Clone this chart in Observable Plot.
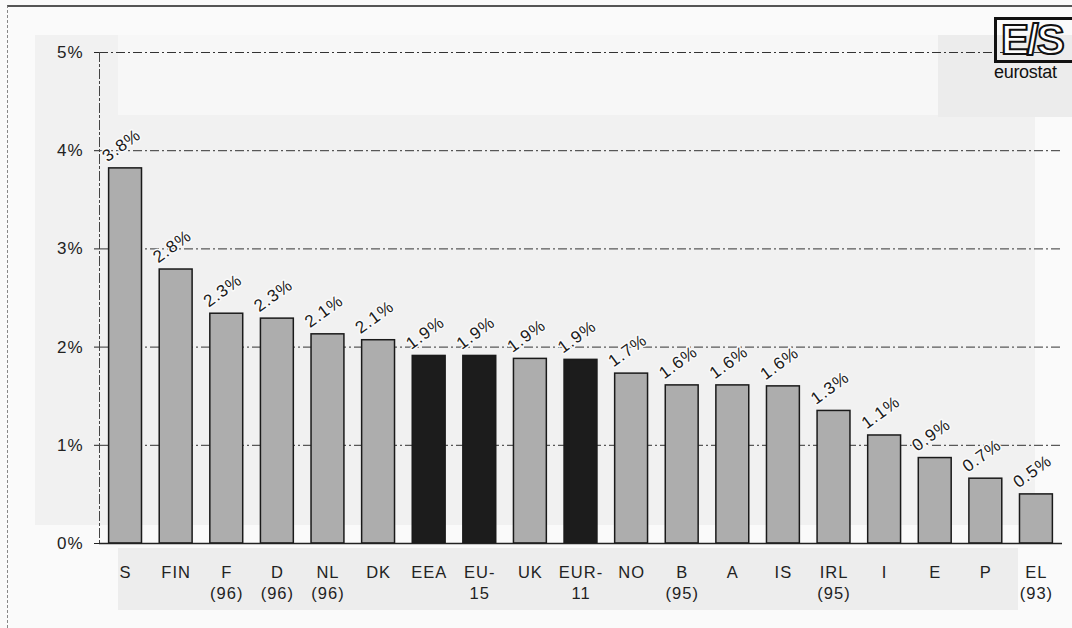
<!DOCTYPE html>
<html>
<head>
<meta charset="utf-8">
<script src="https://cdn.jsdelivr.net/npm/d3@7"></script>
<script src="https://cdn.jsdelivr.net/npm/@observablehq/plot@0.6"></script>
<style>
  html, body { margin: 0; padding: 0; background: #fafafa; }
  #wrap { position: relative; width: 1072px; height: 628px; overflow: hidden; font-family: "Liberation Sans", Arial, sans-serif; }
  .patch { position: absolute; background: #efefef; }
  #frame { position: absolute; left: 7px; top: 5px; right: -5px; bottom: -5px; border-top: 2px solid #555; border-left: 1px dashed #888; }
  #logo { position: absolute; left: 994px; top: 17px; }
  #logo .box { width: 84px; height: 46px; border: 3px solid #111; border-right: none; box-sizing: border-box; font-weight: bold; font-size: 42px; line-height: 40px; color: #fff; -webkit-text-stroke: 2px #111; padding-left: 4px; letter-spacing: -2px; }
  #logo .name { font-size: 18px; color: #111; margin-top: -1px; letter-spacing: -0.3px; }
  #chart { position: absolute; left: 0; top: 0; }
  #chart svg g[aria-label="x-axis tick label"] text, #chart svg g[aria-label="y-axis tick label"] text { letter-spacing: 1px; }
  #chart svg g[aria-label="text"] text { letter-spacing: 1px; }
</style>
</head>
<body>
<div id="wrap">
  <div class="patch" style="left:35px;top:35px;width:1000px;height:490px;background:#f1f1f1"></div>
  <div class="patch" style="left:118px;top:35px;width:820px;height:80px;background:#f7f7f7"></div>
  <div class="patch" style="left:938px;top:35px;width:140px;height:82px;background:#ececec"></div>
  <div class="patch" style="left:118px;top:548px;width:900px;height:62px;background:#ededed"></div>
  <div id="frame"></div>
  <div id="chart"></div>
  <div id="logo"><div class="box">E/S</div><div class="name">eurostat</div></div>
</div>
<script>
const codes = ["S","FIN","F","D","NL","DK","EEA","EU-15","UK","EUR-11","NO","B","A","IS","IRL","I","E","P","EL"];
const tickLabels = ["S","FIN","F\n(96)","D\n(96)","NL\n(96)","DK","EEA","EU-\n15","UK","EUR-\n11","NO","B\n(95)","A","IS","IRL\n(95)","I","E","P","EL\n(93)"];
const values = [3.82,2.79,2.34,2.29,2.13,2.07,1.91,1.91,1.88,1.87,1.73,1.61,1.61,1.60,1.35,1.10,0.87,0.66,0.50];
const valueLabels = ["3.8%","2.8%","2.3%","2.3%","2.1%","2.1%","1.9%","1.9%","1.9%","1.9%","1.7%","1.6%","1.6%","1.6%","1.3%","1.1%","0.9%","0.7%","0.5%"];
const aggregates = ["EEA","EU-15","EUR-11"];
const yTicks = [0,1,2,3,4,5];

const data = codes.map((c, i) => ({code: c, value: values[i], label: valueLabels[i], agg: aggregates.includes(c)}));
const tickMap = new Map(codes.map((c, i) => [c, tickLabels[i]]));

const chart = Plot.plot({
  width: 1072,
  height: 628,
  marginLeft: 99,
  marginRight: 10,
  marginTop: 52,
  marginBottom: 85,
  style: {background: "transparent", fontFamily: "'Liberation Sans', Arial, sans-serif", color: "#222"},
  x: {domain: codes, paddingInner: 0.35, paddingOuter: 0.19, round: false, label: null},
  y: {domain: [0, 5], label: null},
  marks: [
    Plot.ruleY(yTicks.filter(d => d > 0), {stroke: "#333", strokeWidth: 1, strokeDasharray: "9,3,2,3"}),
    Plot.frame({anchor: "left", stroke: "#444", strokeDasharray: "9,3,2,3"}),
    Plot.barY(data, {x: "code", y: "value", fill: d => d.agg ? "#1c1c1c" : "#adadad", stroke: "#1a1a1a", strokeWidth: 1.5}),
    Plot.ruleY([0], {stroke: "#222", strokeWidth: 1.5}),
    Plot.text(data, {x: "code", y: "value", text: "label", rotate: -36, textAnchor: "start", lineAnchor: "bottom", dx: -18, dy: -6, fontSize: 17, fill: "#1a1a1a", stroke: "#fafafa", strokeWidth: 3}),
    Plot.axisY({ticks: yTicks, tickFormat: d => d + "%", tickSize: 5, tickPadding: 11, fontSize: 17, label: null}),
    Plot.axisX({tickFormat: d => tickMap.get(d), tickSize: 0, tickPadding: 20, fontSize: 16.5, lineHeight: 1.25, label: null})
  ]
});
document.getElementById("chart").appendChild(chart);
</script>
</body>
</html>
